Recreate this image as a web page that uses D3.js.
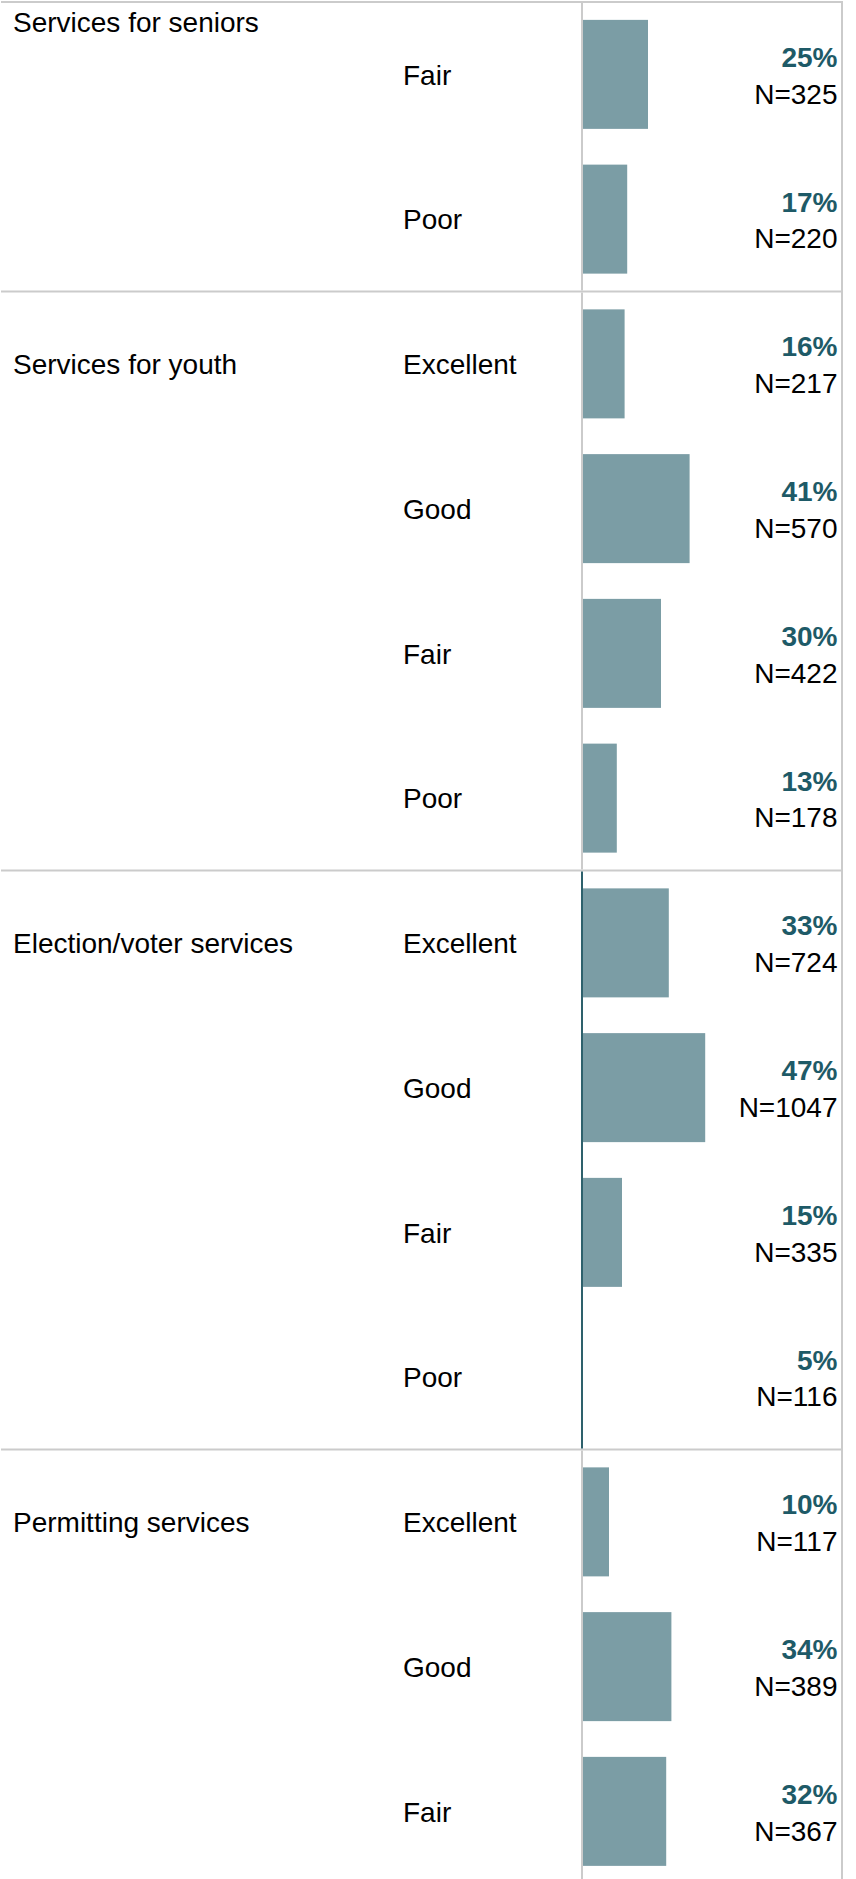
<!DOCTYPE html>
<html>
<head>
<meta charset="utf-8">
<script src="https://cdn.jsdelivr.net/npm/d3@7"></script>
<style>
  html, body { margin: 0; padding: 0; background: #fff; }
  svg { display: block; font-family: "Liberation Sans", Arial, sans-serif; }
</style>
</head>
<body>
<svg id="chart" width="856" height="1879"></svg>
<script>
// ---- data ----
const groups = ["Services for seniors", "Services for youth", "Election/voter services", "Permitting services"];
const seniorsRatings = ["Fair", "Poor"];
const seniorsPct = [25, 17];
const seniorsN = [325, 220];
const youthRatings = ["Excellent", "Good", "Fair", "Poor"];
const youthPct = [16, 41, 30, 13];
const youthN = [217, 570, 422, 178];
const electionRatings = ["Excellent", "Good", "Fair", "Poor"];
const electionPct = [33, 47, 15, 5];
const electionN = [724, 1047, 335, 116];
const permittingRatings = ["Excellent", "Good", "Fair"];
const permittingPct = [10, 34, 32];
const permittingN = [117, 389, 367];
// group whose first rows are scrolled off the top (label pinned to top)
const truncatedGroups = ["Services for seniors"];
// group whose axis segment is highlighted
const highlightedGroups = ["Election/voter services"];
// bars not rendered in the reference
const hiddenBars = ["Election/voter services|Poor"];

// ---- build rows ----
const groupData = [
  {name: groups[0], ratings: seniorsRatings, pct: seniorsPct, n: seniorsN},
  {name: groups[1], ratings: youthRatings, pct: youthPct, n: youthN},
  {name: groups[2], ratings: electionRatings, pct: electionPct, n: electionN},
  {name: groups[3], ratings: permittingRatings, pct: permittingPct, n: permittingN}
];
const rows = [];
groupData.forEach((g, gi) => {
  g.ratings.forEach((r, i) => {
    rows.push({key: gi + "|" + i, group: g.name, gi, first: i === 0, rating: r, pct: g.pct[i], n: g.n[i]});
  });
});

const svg = d3.select("#chart");
const top0 = 2, rowStep = 144.75;
const axisX = 582, rightX = 842, leftX = 1;

const y = d3.scaleBand()
  .domain(rows.map(d => d.key))
  .range([top0, top0 + rows.length * rowStep])
  .paddingInner(0.247)
  .paddingOuter(0.1235);

const x = d3.scaleLinear().domain([0, 100]).range([axisX + 1, rightX + 1]);

const rowTop = d => y(d.key) - y.step() * y.paddingInner() / 2;
const rowCenter = d => y(d.key) + y.bandwidth() / 2;

// group extents
const gExt = groupData.map((g, gi) => {
  const rs = rows.filter(r => r.gi === gi);
  return {name: g.name, top: rowTop(rs[0]), bottom: rowTop(rs[0]) + rs.length * y.step(), rows: rs};
});

const gray = "#cbcbcb";

// bars
svg.append("g").selectAll("rect")
  .data(rows.filter(d => !hiddenBars.includes(d.group + "|" + d.rating)))
  .join("rect")
  .attr("x", x(0))
  .attr("y", d => y(d.key))
  .attr("width", d => x(d.pct) - x(0))
  .attr("height", y.bandwidth())
  .attr("fill", "#7b9da5");

// horizontal group lines
const lineG = svg.append("g");
const hLines = [gExt[0].top].concat(gExt.map(g => g.bottom));
lineG.selectAll("line.h")
  .data(hLines)
  .join("line")
  .attr("class", "h")
  .attr("x1", leftX).attr("x2", rightX + 1)
  .attr("y1", d => d).attr("y2", d => d)
  .attr("stroke", gray).attr("stroke-width", 2);

// vertical axis segments per group
lineG.selectAll("line.v")
  .data(gExt)
  .join("line")
  .attr("class", "v")
  .attr("x1", axisX).attr("x2", axisX)
  .attr("y1", d => d.top + 1).attr("y2", d => d.bottom - 1)
  .attr("stroke", d => highlightedGroups.includes(d.name) ? "#2e616c" : gray)
  .attr("stroke-width", 2);

// right border
lineG.append("line")
  .attr("x1", rightX).attr("x2", rightX)
  .attr("y1", gExt[0].top).attr("y2", 1879)
  .attr("stroke", gray).attr("stroke-width", 2);

// group labels
svg.append("g").selectAll("text")
  .data(gExt)
  .join("text")
  .attr("x", 13)
  .attr("y", d => truncatedGroups.includes(d.name) ? d.top + 29.5 : rowCenter(d.rows[0]) + 10.3)
  .attr("font-size", 28)
  .attr("fill", "#000")
  .text(d => d.name);

// rating labels
svg.append("g").selectAll("text")
  .data(rows)
  .join("text")
  .attr("x", 403)
  .attr("y", d => rowCenter(d) + 10.3)
  .attr("font-size", 28)
  .attr("fill", "#000")
  .text(d => d.rating);

// percent labels
svg.append("g").selectAll("text")
  .data(rows)
  .join("text")
  .attr("x", 837.5)
  .attr("y", d => rowCenter(d) - 7.4)
  .attr("text-anchor", "end")
  .attr("font-size", 28)
  .attr("font-weight", "bold")
  .attr("fill", "#1e5a67")
  .text(d => d.pct + "%");

// N labels
svg.append("g").selectAll("text")
  .data(rows)
  .join("text")
  .attr("x", 837.5)
  .attr("y", d => rowCenter(d) + 29.3)
  .attr("text-anchor", "end")
  .attr("font-size", 28)
  .attr("fill", "#000")
  .text(d => "N=" + d.n);
</script>
</body>
</html>
